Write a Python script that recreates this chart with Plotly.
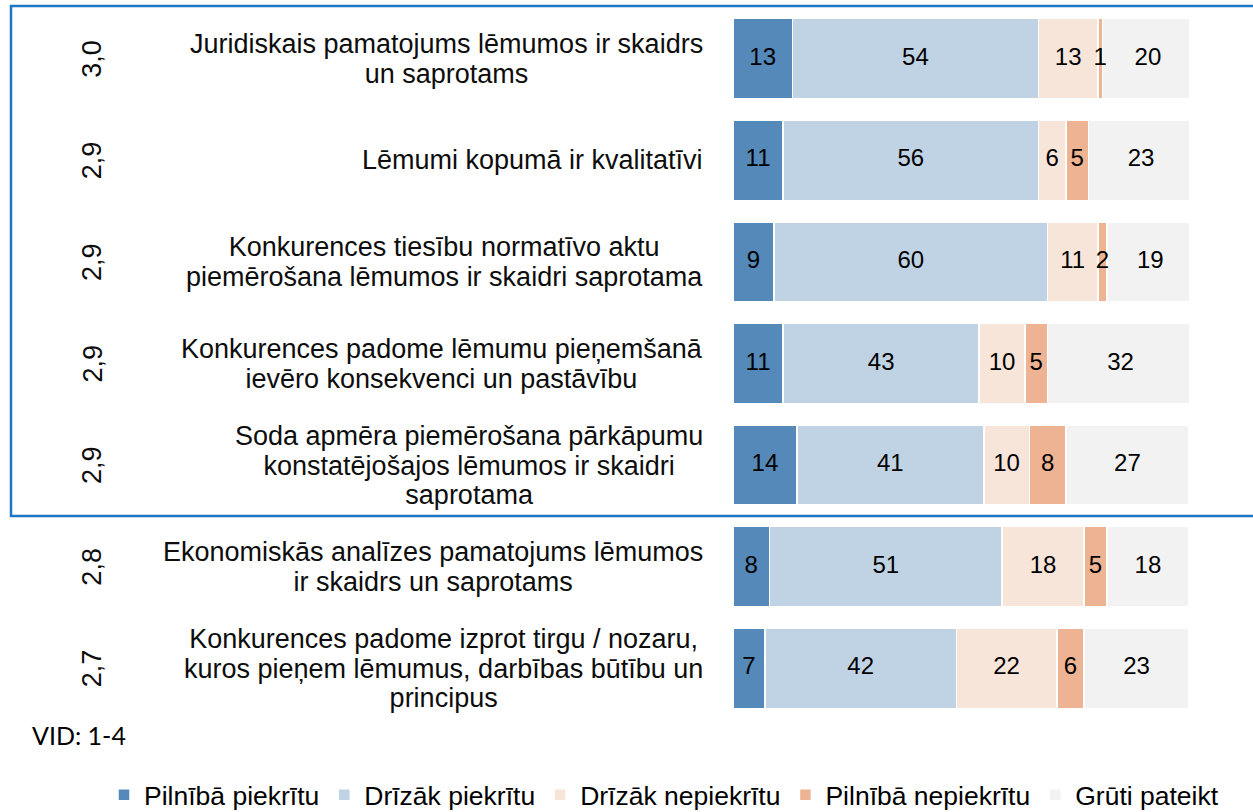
import plotly.graph_objects as go

# apgalvojumi (no augšas uz leju)
apgalvojumi = [
    ["Juridiskais pamatojums lēmumos ir skaidrs", "un saprotams"],
    ["Lēmumi kopumā ir kvalitatīvi"],
    ["Konkurences tiesību normatīvo aktu", "piemērošana lēmumos ir skaidri saprotama"],
    ["Konkurences padome lēmumu pieņemšanā", "ievēro konsekvenci un pastāvību"],
    ["Soda apmēra piemērošana pārkāpumu", "konstatējošajos lēmumos ir skaidri", "saprotama"],
    ["Ekonomiskās analīzes pamatojums lēmumos", "ir skaidrs un saprotams"],
    ["Konkurences padome izprot tirgu / nozaru,", "kuros pieņem lēmumus, darbības būtību un", "principus"],
]
vid = ["3,0", "2,9", "2,9", "2,9", "2,9", "2,8", "2,7"]

pilniba_piekritu = [13, 11, 9, 11, 14, 8, 7]
drizak_piekritu = [54, 56, 60, 43, 41, 51, 42]
drizak_nepiekritu = [13, 6, 11, 10, 10, 18, 22]
pilniba_nepiekritu = [1, 5, 2, 5, 8, 5, 6]
gruti_pateikt = [20, 23, 19, 32, 27, 18, 23]

serijas = [
    ("Pilnībā piekrītu", pilniba_piekritu, "#5489B9"),
    ("Drīzāk piekrītu", drizak_piekritu, "#C0D3E4"),
    ("Drīzāk nepiekrītu", drizak_nepiekritu, "#F8E5DA"),
    ("Pilnībā nepiekrītu", pilniba_nepiekritu, "#EDB392"),
    ("Grūti pateikt", gruti_pateikt, "#F2F2F2"),
]

kat = ["r%d" % i for i in range(len(apgalvojumi))]
SANS = "Liberation Sans, Arial, sans-serif"
FS = 27
rinda = 29.5  # rindstarpa pikseļos

fig = go.Figure()
for nos, vert, krasa in serijas:
    fig.add_trace(go.Bar(
        y=kat, x=vert, name=nos, orientation="h",
        marker=dict(color=krasa, line=dict(color="white", width=1.5)),
    ))

# vērtību uzraksti virs visiem stabiņiem (lai šaurie segmenti netiek aizsegti)
uzr_x, uzr_y, uzr_t = [], [], []
for i, k in enumerate(kat):
    sak = 0
    for _, vert, _ in serijas:
        uzr_x.append(sak + vert[i] / 2)
        uzr_y.append(k)
        uzr_t.append(str(vert[i]))
        sak += vert[i]
fig.add_trace(go.Scatter(x=uzr_x, y=uzr_y, text=uzr_t, mode="text",
                         textposition="middle center", showlegend=False,
                         hoverinfo="skip",
                         textfont=dict(color="black", size=24, family=SANS)))

# pikseļu ģeometrija
L, R = 733, 1189
pw = R - L
def px(x):
    return (x - L) / pw

top, bot = 8, 719
def py(y):
    return (bot - y) / (bot - top)

# plotly rindstarpa = 1.3 * fonta izmērs -> bāzes fonts mazāks, teksts span iekšā lielāks
for k, rindas, v in zip(kat, apgalvojumi, vid):
    teksts = "<br>".join('<span style="font-size:%dpx">%s</span>' % (FS, t) for t in rindas)
    fig.add_annotation(x=px(705), xref="paper", y=k, yref="y",
                       text=teksts, align="center",
                       showarrow=False, xanchor="right", yanchor="middle",
                       font=dict(size=rinda / 1.3, family=SANS, color="#0d0d0d"))
    fig.add_annotation(x=px(92), xref="paper", y=k, yref="y", text=v,
                       showarrow=False, textangle=-90,
                       xanchor="center", yanchor="middle",
                       font=dict(size=FS, family=SANS, color="#0d0d0d"))

fig.add_annotation(x=px(30), xref="paper", xanchor="left", y=py(735), yref="paper",
                   yanchor="middle", text="VID: 1-4", showarrow=False,
                   font=dict(size=25, family="Lato, sans-serif", color="black"))

fig.add_shape(type="rect", xref="paper", yref="paper",
              x0=px(11), x1=px(1270), y0=py(516), y1=py(6),
              line=dict(color="#1E78C8", width=2.5))

fig.update_layout(
    barmode="stack", bargap=0.21,
    width=1253, height=812,
    margin=dict(l=L, r=1253 - R, t=top, b=812 - bot, autoexpand=False),
    plot_bgcolor="white", paper_bgcolor="white",
    xaxis=dict(range=[0, 100], visible=False, fixedrange=True),
    yaxis=dict(autorange="reversed", visible=False, categoryorder="array",
               categoryarray=kat, fixedrange=True),
    legend=dict(orientation="h", xref="paper", yref="paper",
                x=px(104), xanchor="left", y=py(795), yanchor="middle",
                font=dict(size=26.5, family=SANS, color="black"),
                itemwidth=30, traceorder="normal"),
    showlegend=True,
)

fig.write_html("out.html", config={"displayModeBar": False},
               post_script="document.body.style.margin='0';")
